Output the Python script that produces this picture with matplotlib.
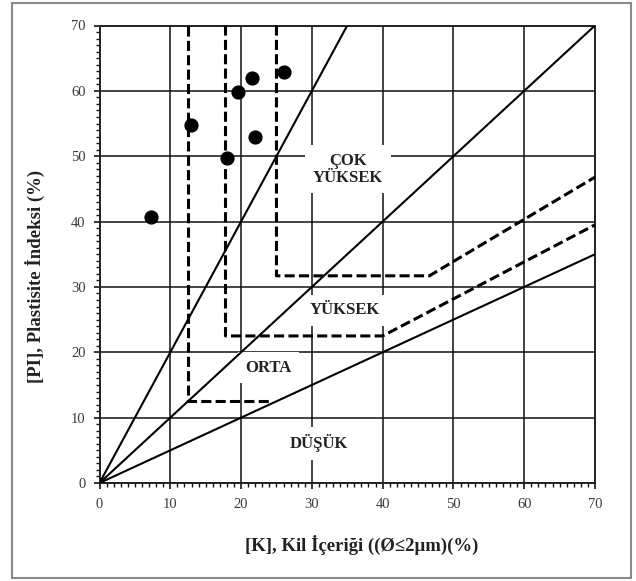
import matplotlib
matplotlib.use("Agg")
import matplotlib.pyplot as plt
from matplotlib.ticker import MultipleLocator
from matplotlib.patches import Rectangle

# Sample measurements: clay content [K] (%) vs plasticity index [PI] (%)
clay_content = [7.3, 12.9, 18.0, 19.5, 21.6, 22.0, 26.0]
plasticity_index = [40.7, 54.8, 49.7, 59.9, 61.9, 52.9, 62.9]

# Solid boundary lines through the origin (PI / K ratios)
activity_slopes = [2.0, 1.0, 0.5]

# Dashed class boundaries (K, PI vertices)
boundary_low_k = [12.5, 12.5, 24.0]
boundary_low_pi = [70.0, 12.5, 12.5]
boundary_mid_k = [17.8, 17.8, 40.0, 70.0]
boundary_mid_pi = [70.0, 22.5, 22.5, 39.5]
boundary_high_k = [25.0, 25.0, 46.6, 70.0]
boundary_high_pi = [70.0, 31.7, 31.7, 46.8]

# Class labels and their positions
class_names = ["ÇOK\nYÜKSEK", "YÜKSEK", "ORTA", "DÜŞÜK"]
class_k = [35.1, 34.7, 23.9, 31.0]
class_pi = [48.0, 26.4, 17.6, 6.1]

axis_ticks = [0, 10, 20, 30, 40, 50, 60, 70]

serif = ["Liberation Serif", "DejaVu Serif"]

fig = plt.figure(figsize=(6.36, 5.81), dpi=100)
ax = fig.add_axes([99.5 / 636, 1 - 483 / 581, 495.5 / 636, 457.5 / 581])

ax.set_xlim(0, 70)
ax.set_ylim(0, 70)
ax.set_xticks(axis_ticks)
ax.set_yticks(axis_ticks)
ax.xaxis.set_minor_locator(MultipleLocator(1))
ax.yaxis.set_minor_locator(MultipleLocator(1))
ax.tick_params(which="major", direction="out", length=4, width=1.1,
               colors="black", labelcolor="#3a3a3a", labelsize=10.5)
ax.tick_params(which="minor", direction="out", length=3, width=1.0, colors="#111111")
ax.tick_params(axis="x", which="major", pad=7)
ax.tick_params(axis="y", which="major", pad=6)
for lab in ax.get_xticklabels() + ax.get_yticklabels():
    lab.set_fontfamily(serif)

ax.set_axisbelow(True)
ax.grid(which="major", color="#111111", linewidth=1.1)
for sp in ax.spines.values():
    sp.set_color("#222222")
    sp.set_linewidth(1.4)

# Solid ratio lines
for s in activity_slopes:
    xe = min(70.0, 70.0 / s)
    ax.plot([0, xe], [0, s * xe], color="black", linewidth=1.5,
            zorder=4, solid_capstyle="butt")

# Dashed class boundaries
for bx, by in [(boundary_low_k, boundary_low_pi),
               (boundary_mid_k, boundary_mid_pi),
               (boundary_high_k, boundary_high_pi)]:
    ax.plot(bx, by, color="black", linewidth=2.2, linestyle=(0, (3.3, 1.4)),
            zorder=4, clip_on=False)

# Data points
ax.scatter(clay_content, plasticity_index, s=85, color="black", zorder=5,
           clip_on=False)

# Class labels on white boxes
for name, kx, py in zip(class_names, class_k, class_pi):
    ax.text(kx, py, name, ha="center", va="center", fontsize=12,
            fontweight="bold", family=serif, color="#222222",
            linespacing=1.1, zorder=3,
            bbox=dict(boxstyle="square,pad=0.45", facecolor="white",
                      edgecolor="none"))

# Axis titles
fig.text(362 / 636, 1 - 545 / 581, "[K], Kil İçeriği ((Ø≤2µm)(%)",
         ha="center", va="center", fontsize=13.5, fontweight="bold",
         family=serif, color="#222222")
fig.text(35 / 636, 1 - 276 / 581, "[PI], Plastisite İndeksi (%)",
         ha="center", va="center", rotation=90, fontsize=13.5,
         fontweight="bold", family=serif, color="#222222")

# Outer frame
fig.patches.append(Rectangle((12 / 636, 3 / 581), 619 / 636, 575 / 581,
                             transform=fig.transFigure, fill=False,
                             edgecolor="#8a8a8a", linewidth=1.5))

fig.savefig("out.png", dpi=100)
